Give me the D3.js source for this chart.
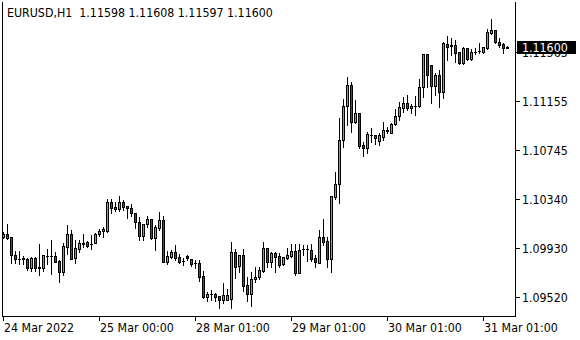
<!DOCTYPE html>
<html><head><meta charset="utf-8">
<script src="https://cdn.jsdelivr.net/npm/d3@7/dist/d3.min.js"></script>
<style>
html,body{margin:0;padding:0;background:#fff;}
svg{display:block;}
text{font-family:'DejaVu Sans Condensed','DejaVu Sans',sans-serif;font-stretch:condensed;font-size:12.3px;fill:#000;}
</style></head>
<body><svg id="c" width="580" height="340"></svg>
<script>
const symbolTitle = "EURUSD,H1";
const lastOHLC = ["1.11598","1.11608","1.11597","1.11600"];
const currentPrice = 1.11600;
const openP = [1.10020,1.10045,1.10020,1.09870,1.09837,1.09837,1.09837,1.09762,1.09845,1.09770,1.09762,1.09862,1.09862,1.09862,1.09820,1.09728,1.09937,1.10045,1.09845,1.09920,1.09962,1.09978,1.09962,1.09970,1.10045,1.10070,1.10070,1.10312,1.10270,1.10253,1.10312,1.10278,1.10262,1.10220,1.10145,1.10028,1.10128,1.10170,1.10012,1.10095,1.10162,1.09812,1.09853,1.09895,1.09853,1.09820,1.09862,1.09837,1.09803,1.09803,1.09695,1.09520,1.09545,1.09545,1.09528,1.09495,1.09495,1.09503,1.09895,1.09778,1.09870,1.09620,1.09545,1.09670,1.09687,1.09737,1.09928,1.09812,1.09887,1.09862,1.09795,1.09845,1.09862,1.09903,1.09720,1.09920,1.09920,1.09912,1.09845,1.09803,1.10020,1.09987,1.09837,1.10353,1.10462,1.10828,1.11112,1.11287,1.10978,1.11053,1.10787,1.10762,1.10870,1.10870,1.10820,1.10853,1.10903,1.10887,1.10962,1.11028,1.11095,1.11137,1.11095,1.11112,1.11112,1.11270,1.11545,1.11453,1.11278,1.11370,1.11228,1.11628,1.11620,1.11620,1.11562,1.11470,1.11595,1.11503,1.11562,1.11570,1.11562,1.11595,1.11720,1.11745,1.11645,1.11628,1.11598];
const highP = [1.10062,1.10128,1.10020,1.09903,1.09903,1.09862,1.09845,1.09853,1.09853,1.09962,1.09870,1.09920,1.09995,1.09895,1.09828,1.09970,1.10120,1.10078,1.09995,1.09995,1.10045,1.09987,1.10037,1.10053,1.10087,1.10103,1.10337,1.10337,1.10312,1.10362,1.10328,1.10278,1.10295,1.10220,1.10187,1.10128,1.10195,1.10170,1.10120,1.10228,1.10195,1.09903,1.09912,1.09953,1.09878,1.09845,1.09870,1.09837,1.09828,1.09828,1.09737,1.09562,1.09578,1.09553,1.09528,1.09637,1.09587,1.09978,1.09920,1.09870,1.09920,1.09687,1.09728,1.09770,1.09770,1.09978,1.09928,1.09895,1.09895,1.09887,1.09853,1.09928,1.09962,1.09962,1.09962,1.09953,1.09953,1.09962,1.09870,1.10078,1.10170,1.10020,1.10362,1.10562,1.11012,1.11170,1.11353,1.11312,1.11162,1.11053,1.10812,1.10895,1.10928,1.10870,1.10887,1.10978,1.10937,1.10970,1.11087,1.11145,1.11187,1.11203,1.11128,1.11195,1.11337,1.11545,1.11545,1.11453,1.11387,1.11412,1.11645,1.11695,1.11678,1.11662,1.11562,1.11603,1.11595,1.11587,1.11595,1.11637,1.11603,1.11753,1.11837,1.11745,1.11678,1.11637,1.11608];
const lowP = [1.10012,1.10003,1.09803,1.09803,1.09795,1.09795,1.09745,1.09737,1.09737,1.09703,1.09737,1.09795,1.09712,1.09812,1.09645,1.09703,1.09878,1.09837,1.09803,1.09895,1.09937,1.09937,1.09920,1.09970,1.10028,1.10020,1.10062,1.10220,1.10237,1.10237,1.10245,1.10178,1.10195,1.10095,1.09995,1.09995,1.10103,1.10003,1.09912,1.10078,1.09812,1.09795,1.09845,1.09828,1.09803,1.09787,1.09828,1.09778,1.09762,1.09653,1.09512,1.09487,1.09495,1.09487,1.09428,1.09470,1.09495,1.09428,1.09678,1.09728,1.09570,1.09487,1.09445,1.09645,1.09670,1.09728,1.09770,1.09770,1.09728,1.09770,1.09787,1.09837,1.09853,1.09703,1.09720,1.09870,1.09820,1.09820,1.09770,1.09803,1.09953,1.09770,1.09728,1.10337,1.10303,1.10770,1.10953,1.10895,1.10970,1.10762,1.10695,1.10720,1.10812,1.10795,1.10787,1.10828,1.10887,1.10887,1.10953,1.10995,1.11062,1.11078,1.11053,1.11037,1.11103,1.11187,1.11270,1.11137,1.11203,1.11103,1.11178,1.11495,1.11537,1.11478,1.11462,1.11462,1.11495,1.11495,1.11545,1.11553,1.11553,1.11587,1.11712,1.11637,1.11603,1.11553,1.11597];
const closeP = [1.10045,1.10012,1.09870,1.09837,1.09840,1.09845,1.09762,1.09845,1.09762,1.09762,1.09870,1.09865,1.09860,1.09812,1.09728,1.09945,1.10045,1.09837,1.09928,1.09970,1.09970,1.09945,1.09960,1.10045,1.10070,1.10087,1.10312,1.10262,1.10253,1.10312,1.10270,1.10262,1.10220,1.10145,1.10028,1.10128,1.10170,1.10012,1.10103,1.10162,1.09812,1.09862,1.09895,1.09845,1.09812,1.09818,1.09845,1.09795,1.09805,1.09687,1.09520,1.09545,1.09547,1.09520,1.09495,1.09537,1.09537,1.09895,1.09770,1.09870,1.09612,1.09545,1.09670,1.09687,1.09745,1.09928,1.09812,1.09887,1.09853,1.09787,1.09853,1.09870,1.09903,1.09720,1.09912,1.09922,1.09918,1.09837,1.09812,1.10020,1.09978,1.09837,1.10362,1.10462,1.10828,1.11112,1.11287,1.10978,1.11053,1.10778,1.10762,1.10878,1.10872,1.10845,1.10870,1.10912,1.10912,1.10962,1.11028,1.11103,1.11137,1.11095,1.11112,1.11110,1.11270,1.11545,1.11370,1.11278,1.11370,1.11228,1.11637,1.11603,1.11612,1.11553,1.11470,1.11595,1.11503,1.11562,1.11560,1.11572,1.11603,1.11728,1.11745,1.11645,1.11620,1.11595,1.11600];
const xTickIndex = [0,24,48,72,96,120];
const xTickLabels = ["24 Mar 2022","25 Mar 00:00","28 Mar 01:00","29 Mar 01:00","30 Mar 01:00","31 Mar 01:00"];
const yTickValues = [1.11565,1.11155,1.10745,1.10340,1.09930,1.09520];
const yTickLabels = ["1.11565","1.11155","1.10745","1.10340","1.09930","1.09520"];

const bars = openP.map((o,i)=>({i,o,h:highP[i],l:lowP[i],c:closeP[i]}));
const svg = d3.select("#c");
const L=2, R=515, T=2, B=316;
const x = d3.scaleLinear().domain([0, bars.length-1]).range([3.5, 3.5+4*(bars.length-1)]);
const y = d3.scaleLinear().domain([1.09520, 1.11155]).range([297, 100.8]);
const bull="#00ff00", bear="#ff0000";

const g = svg.append("g");
bars.forEach(b=>{
  const cx = x(b.i);
  const yh = Math.round(y(b.h)), yl = Math.round(y(b.l));
  g.append("line").attr("x1",cx).attr("x2",cx).attr("y1",yh).attr("y2",yl+1).attr("stroke","#000").attr("stroke-width",1);
  const yt = Math.round(y(Math.max(b.o,b.c))), yb = Math.round(y(Math.min(b.o,b.c)));
  if (yb - yt < 1) {
    g.append("rect").attr("x",cx-1.5).attr("y",yt).attr("width",3).attr("height",1).attr("fill","#000");
  } else {
    g.append("rect").attr("x",cx-1.5).attr("y",yt).attr("width",3).attr("height",yb-yt+1).attr("fill","#000");
    if (yb-yt>=2) g.append("rect").attr("x",cx-0.5).attr("y",yt+1).attr("width",1).attr("height",yb-yt-1).attr("fill", b.c>=b.o?bull:bear);
  }
});

// frame
svg.append("line").attr("x1",L+0.5).attr("x2",L+0.5).attr("y1",T).attr("y2",B+1).attr("stroke","#000");
svg.append("line").attr("x1",R+0.5).attr("x2",R+0.5).attr("y1",T).attr("y2",B+1).attr("stroke","#000");
svg.append("line").attr("x1",L).attr("x2",R+1).attr("y1",B+0.5).attr("y2",B+0.5).attr("stroke","#000");

// y axis ticks
yTickValues.forEach((v,k)=>{
  const yy = Math.round(y(v))+0.5;
  svg.append("line").attr("x1",R+1).attr("x2",R+5).attr("y1",yy).attr("y2",yy).attr("stroke","#000");
  svg.append("text").attr("x",R+7).attr("y",yy).attr("dy","0.36em").text(yTickLabels[k]);
});
// current price marker
const cy = y(currentPrice);
svg.append("rect").attr("x",R+2).attr("y",Math.round(cy)-6).attr("width",59).attr("height",13).attr("fill","#000");
svg.append("text").attr("x",R+7).attr("y",Math.round(cy)+0.5).attr("dy","0.36em").style("fill","#fff").text(currentPrice.toFixed(5));

// x axis ticks
xTickIndex.forEach((idx,k)=>{
  const xx = Math.floor(x(idx))+0.5;
  svg.append("line").attr("x1",xx).attr("x2",xx).attr("y1",B+1).attr("y2",B+5).attr("stroke","#000");
  svg.append("text").attr("x",xx+0.5).attr("y",332).text(xTickLabels[k]);
});

// title
svg.append("text").attr("x",7).attr("y",17).attr("xml:space","preserve").text(symbolTitle+"  "+lastOHLC.join(" "));
</script></body></html>
